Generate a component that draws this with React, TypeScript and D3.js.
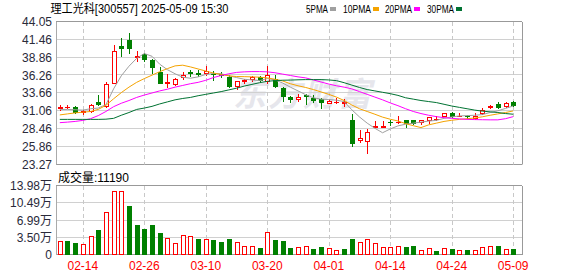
import React from 'react';
import * as d3 from 'd3';

const dates = [
  "02-11","02-12","02-13","02-14","02-17","02-18","02-19","02-20","02-21","02-24",
  "02-25","02-26","02-27","02-28","03-03","03-04","03-05","03-06","03-07","03-10",
  "03-11","03-12","03-13","03-14","03-17","03-18","03-19","03-20","03-21","03-24",
  "03-25","03-26","03-27","03-28","03-31","04-01","04-02","04-03","04-07","04-08",
  "04-09","04-10","04-11","04-14","04-15","04-16","04-17","04-18","04-21","04-22",
  "04-23","04-24","04-25","04-28","04-29","04-30","05-06","05-07","05-08","05-09",
];

const openP = [31.55,31.6,31.7,30.95,31.05,32.4,31.8,35.2,40.6,41.4, 38.95,39.4,38.5,36.8,35.15,34.95,36.05,36.7,36.6,36.55, 36.5,36.45,36.05,34.7,35.5,35.7,36.05,35.45,35.75,34.4, 33.1,32.75,33.35,32.95,32.75,32.25,32.4,32.3,29.8,26.8, 26.7,28.8,28.8,29.45,29.4,29.7,29.7,29.4,29.8,29.85, 30.4,30.8,30.35,30.4,30.0,30.8,31.6,32.05,31.75,32.35];
const highP = [31.95,31.9,31.8,31.25,32.15,33.45,35.3,40.7,41.7,42.5, 39.85,39.6,38.6,37.5,36.45,35.95,36.8,37.05,37.0,37.7, 36.95,36.8,36.3,35.5,35.8,36.15,36.2,37.7,36.25,34.5, 33.3,33.6,33.5,33.4,33.0,32.8,33.0,32.75,30.6,28.25, 28.45,29.6,29.6,29.7,30.3,29.75,29.8,29.8,30.25,30.4, 30.85,30.9,30.8,30.5,30.8,31.45,31.95,32.45,32.45,32.5];
const lowP = [31.2,31.45,30.85,30.7,30.95,31.9,31.7,35.2,39.1,39.5, 38.4,38.4,36.55,35.1,34.6,34.85,35.75,36.15,36.2,36.25, 35.65,36.0,34.5,34.3,35.1,35.5,35.3,35.1,34.5,32.6, 32.45,32.6,32.15,32.35,31.55,32.2,32.25,31.85,26.0,26.5, 24.9,28.7,28.7,29.1,29.35,28.7,29.2,29.2,29.3,29.8, 30.35,30.2,30.3,30.0,29.95,30.6,31.5,31.45,31.6,31.75];
const closeP = [31.65,31.62,30.9,31.0,32.0,32.1,35.0,39.8,40.2,40.2, 39.05,38.7,37.5,35.1,35.25,35.7,36.35,36.6,36.5,36.95, 36.4,36.25,34.7,35.45,35.6,36.05,35.6,36.25,34.7,33.3, 32.75,33.05,33.25,32.65,32.35,32.55,32.45,32.35,26.4,27.2, 28.05,28.85,28.85,29.4,29.45,29.3,29.35,29.7,30.2,29.9, 30.8,30.4,30.4,30.35,30.3,31.25,31.85,31.65,32.25,31.95];

// volume in 万 (10k)
const volume = [2.84,2.84,2.43,2.23,3.79,5.07,8.65,12.9,12.9,9.93, 6.08,5.27,6.08,4.52,3.38,2.43,3.99,3.79,3.24,3.24, 3.04,2.63,3.24,2.63,1.82,1.82,1.42,4.66,3.04,2.84, 1.42,1.62,1.82,1.22,1.62,1.42,1.01,1.22,3.24,2.63, 3.24,2.43,1.62,1.62,1.82,1.62,1.82,1.01,1.42,0.81, 1.42,1.22,1.01,1.01,1.01,1.62,1.82,1.82,1.22,1.119];
const volumeDir = "udduuduuud" + "dddduuuudu" + "ddduuududd" + "duudduuddu" + "uuuuudduud" + "ududuuudud";

const ma5 = [31.3,31.3,31.25,31.2,31.4,31.5,32.0,34.3,36.2,37.6, 38.75,39.45,39.05,37.9,37.1,36.5,36.0,35.85,36.05,36.4, 36.55,36.5,36.2,35.95,35.7,35.6,35.5,35.8,35.6,35.15, 34.55,34.0,33.45,33.0,32.8,32.75,32.65,32.45,31.25,30.2, 29.3,28.55,27.9,28.45,28.9,29.15,29.3,29.45,29.6,29.7, 30.0,30.2,30.35,30.4,30.45,30.55,30.85,31.1,31.45,31.8];
const ma10 = [30.5,30.65,30.8,30.9,31.0,31.3,31.9,32.85,33.75,34.55, 35.25,35.8,36.3,36.8,37.25,37.65,37.75,37.5,37.2,36.9, 36.6,36.4,36.2,36.1,36.08,36.05,36.0,35.9,35.7,35.45, 35.05,34.75,34.5,34.2,33.85,33.5,33.1,32.6,31.95,31.4, 31.0,30.6,30.18,29.87,29.62,29.23,28.93,28.65,29.05,29.3, 29.55,29.72,29.85,29.95,30.05,30.23,30.45,30.65,30.85,31.08];
const ma20 = [29.37,29.45,29.55,29.7,29.95,30.4,31.0,31.7,32.2,32.6, 33.05,33.4,33.7,34.0,34.25,34.55,34.8,35.05,35.25,35.55, 35.95,36.25,36.5,36.7,36.78,36.82,36.82,36.78,36.65,36.45, 36.25,36.05,35.9,35.6,35.3,35.0,34.75,34.55,34.3,33.9, 33.5,33.1,32.7,32.25,31.85,31.4,31.0,30.7,30.45,30.25, 30.1,30.0,29.92,29.85,29.82,29.8,29.78,29.78,29.95,30.25];
const ma30 = [29.85,29.85,29.85,29.85,29.85,29.85,29.88,30.0,30.45,30.85, 31.3,31.5,31.75,32.1,32.4,32.7,32.9,33.05,33.3,33.5, 33.7,33.9,34.15,34.4,34.7,34.95,35.2,35.4,35.5,35.56, 35.58,35.62,35.65,35.65,35.65,35.6,35.5,35.2,34.85,34.5, 34.2,34.0,33.8,33.6,33.35,33.0,32.8,32.6,32.45,32.3, 32.05,31.8,31.6,31.4,31.2,31.05,30.95,30.85,30.7,30.6];

const priceTicks = [44.05, 41.46, 38.86, 36.26, 33.66, 31.06, 28.46, 25.86, 23.27];
const volumeTicks = [13.98, 10.49, 6.99, 3.50, 0];
const volumeTickLabels = ["13.98万", "10.49万", "6.99万", "3.50万", "0"];
const dateTicks = ["02-14", "02-26", "03-10", "03-20", "04-01", "04-14", "04-24", "05-09"];

const maSeries = [
  { name: "5PMA", values: ma5, color: "#a0a0a0" },
  { name: "10PMA", values: ma10, color: "#f5a300" },
  { name: "20PMA", values: ma20, color: "#ff00ff" },
  { name: "30PMA", values: ma30, color: "#007232" },
];

const RED = "#ff0000";
const GREEN = "#008000";
const L = 56, R = 522, MT = 22, MB = 164.5, VT = 186, VB = 255;
const FONT = "'Liberation Sans', Arial, 'Noto Sans CJK SC', sans-serif";

export default function App() {
  const x = d3.scalePoint<string>().domain(dates).range([59.8, 513.2]);
  const y = d3.scaleLinear().domain([23.27, 44.05]).range([MB, MT]);
  const yv = d3.scaleLinear().domain([0, 13.98]).range([VB, VT]);
  const px = (v: number) => Math.round(v) + 0.5;

  const line = d3.line<number>()
    .x((_, i) => x(dates[i]) as number)
    .y((v) => y(v));

  const candles = dates.map((d, i) => {
    const cx = Math.round(x(d) as number);
    const up = closeP[i] >= openP[i];
    const col = up ? RED : GREEN;
    const yO = Math.round(y(openP[i]));
    const yC = Math.round(y(closeP[i]));
    const yH = Math.round(y(highP[i]));
    const yL = Math.round(y(lowP[i]));
    const top = Math.min(yO, yC), bot = Math.max(yO, yC);
    if (bot - top < 1) {
      return (
        <g key={d}>
          <line x1={cx + 0.5} x2={cx + 0.5} y1={yH} y2={yL + 1} stroke={col} />
          <line x1={cx - 2} x2={cx + 3} y1={top + 0.5} y2={top + 0.5} stroke={col} />
        </g>
      );
    }
    if (up) {
      return (
        <g key={d}>
          <line x1={cx + 0.5} x2={cx + 0.5} y1={yH} y2={top} stroke={col} />
          <line x1={cx + 0.5} x2={cx + 0.5} y1={bot + 1} y2={yL + 1} stroke={col} />
          <rect x={cx - 1.5} y={top + 0.5} width={4} height={bot - top} fill="#fff" stroke={col} />
        </g>
      );
    }
    return (
      <g key={d}>
        <line x1={cx + 0.5} x2={cx + 0.5} y1={yH} y2={yL + 1} stroke={col} />
        <rect x={cx - 2} y={top} width={5} height={bot - top + 1} fill={col} />
      </g>
    );
  });

  const volBars = dates.map((d, i) => {
    const cx = Math.round(x(d) as number);
    const top = Math.round(yv(volume[i]));
    if (volumeDir[i] === "u") {
      return <rect key={d} x={cx - 1.5} y={top + 0.5} width={4} height={VB - top - 1} fill="#fff" stroke={RED} />;
    }
    return <rect key={d} x={cx - 2} y={top} width={5} height={VB - top} fill={GREEN} />;
  });

  const legendX = [306, 343, 385, 427];
  const legendW = [22, 28, 27, 27];

  return (
    <svg width={578} height={276} style={{ position: "absolute", left: 0, top: 0, background: "#fff" }}
      fontFamily={FONT}>
      <rect x={0} y={0} width={578} height={276} fill="#fff" />
      {/* title */}
      <text x={50.5} y={13} fontSize={12} fill="#000" textLength={178} lengthAdjust="spacingAndGlyphs">
        理工光科[300557] 2025-05-09 15:30
      </text>
      {maSeries.map((s, k) => (
        <g key={s.name}>
          <text x={legendX[k]} y={13} fontSize={11} fill="#000" textLength={legendW[k]} lengthAdjust="spacingAndGlyphs">{s.name}</text>
          <rect x={legendX[k] + legendW[k] + 2} y={7} width={6} height={4} fill={s.color} />
        </g>
      ))}

      {/* watermark */}
      <text x={233} y={106} fontSize={33} fontWeight="bold" fontStyle="italic" fill="#e6e6ec"
        fontFamily="'Noto Sans CJK SC', sans-serif" letterSpacing={2}>东方财富</text>

      {/* main grid */}
      {priceTicks.map((t, k) => (
        <line key={"pg" + k} x1={L} x2={R} y1={px(y(t)) - 1} y2={px(y(t)) - 1}
          stroke={k === 0 || k === priceTicks.length - 1 ? "#999" : "#d0d0d0"} />
      ))}
      {volumeTicks.map((t, k) => (
        <line key={"vg" + k} x1={L} x2={R} y1={px(yv(t)) - 1} y2={px(yv(t)) - 1}
          stroke={k === 0 || k === volumeTicks.length - 1 ? "#999" : "#d0d0d0"} />
      ))}
      {dateTicks.map((d) => {
        const xx = px(x(d) as number);
        return (
          <g key={"dg" + d}>
            <line x1={xx} x2={xx} y1={MT} y2={MB} stroke="#c8c8c8" strokeDasharray="4,3" />
            <line x1={xx} x2={xx} y1={VT} y2={VB} stroke="#c8c8c8" strokeDasharray="4,3" />
          </g>
        );
      })}
      <line x1={L + 0.5} x2={L + 0.5} y1={MT} y2={MB} stroke="#aaa" />
      <line x1={R + 0.5} x2={R + 0.5} y1={MT} y2={MB} stroke="#999" />
      <line x1={L + 0.5} x2={L + 0.5} y1={VT} y2={VB} stroke="#aaa" />
      <line x1={R + 0.5} x2={R + 0.5} y1={VT} y2={VB} stroke="#999" />

      {/* candles */}
      <g shapeRendering="crispEdges">{candles}</g>

      {/* moving averages */}
      {maSeries.map((s) => (
        <path key={"ma" + s.name} d={line(s.values) || ""} fill="none" stroke={s.color} strokeWidth={1} />
      ))}

      {/* volume */}
      <g shapeRendering="crispEdges">{volBars}</g>

      {/* price labels */}
      {priceTicks.map((t, k) => (
        <text key={"pl" + k} x={52} y={y(t)} dy="0.35em" textAnchor="end" fontSize={12} fill="#2a2a3a">
          {t.toFixed(2)}
        </text>
      ))}
      <text x={58} y={182} fontSize={12} fill="#000">成交量:11190</text>
      {volumeTicks.map((t, k) => (
        <text key={"vl" + k} x={52} y={yv(t)} dy="0.35em" textAnchor="end" fontSize={12} fill="#2a2a3a">
          {volumeTickLabels[k]}
        </text>
      ))}
      {dateTicks.map((d) => (
        <text key={"xl" + d} x={x(d) as number} y={270} textAnchor="middle" fontSize={12} fill={RED}>{d}</text>
      ))}
    </svg>
  );
}
